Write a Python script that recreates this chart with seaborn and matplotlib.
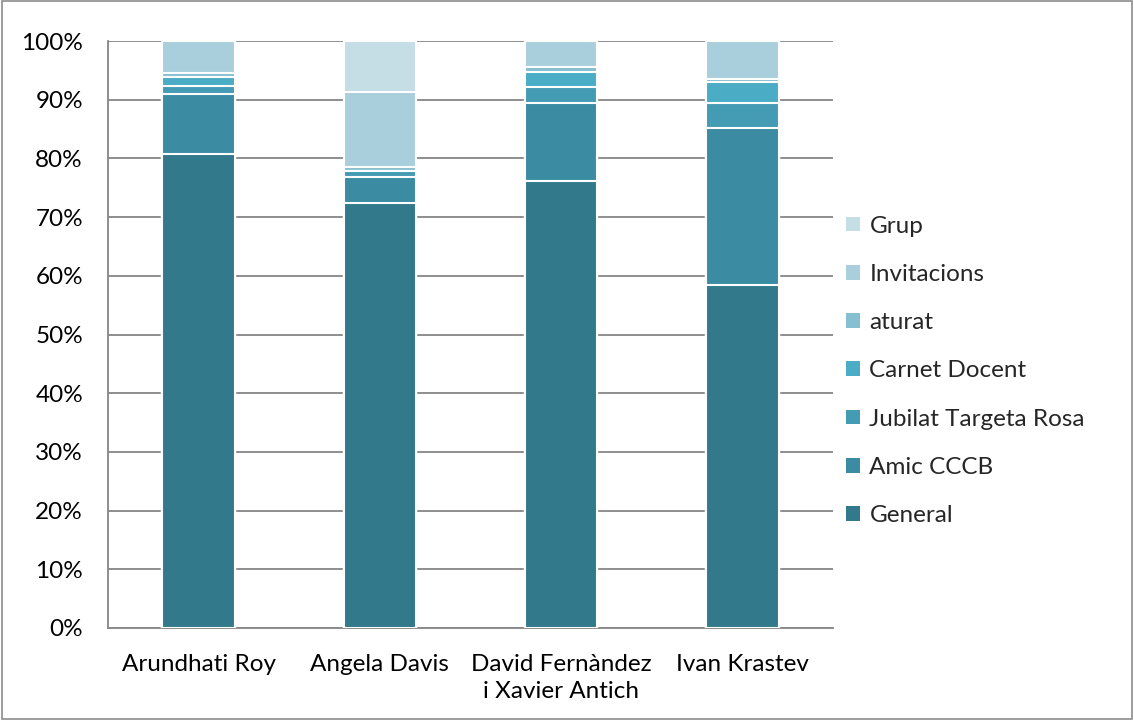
import pandas as pd
import matplotlib.pyplot as plt
import seaborn as sns
from matplotlib.patches import Patch, Rectangle

speakers = ["Arundhati Roy", "Angela Davis", "David Fernàndez\ni Xavier Antich", "Ivan Krastev"]
series = ["General", "Amic CCCB", "Jubilat Targeta Rosa", "Carnet Docent", "aturat", "Invitacions", "Grup"]
general = [80.7, 72.4, 76.1, 58.4]
amic = [10.3, 4.4, 13.4, 26.7]
jubilat = [1.4, 1.0, 2.6, 4.3]
carnet = [1.5, 0.0, 2.7, 3.6]
aturat = [0.7, 0.7, 0.7, 0.6]
invitacions = [5.4, 12.8, 4.5, 6.4]
grup = [0.0, 8.7, 0.0, 0.0]
colors = ["#32798b", "#3b8ba3", "#449bb4", "#4bacc6", "#86bfd1", "#a9cedc", "#c5dde5"]

values = [general, amic, jubilat, carnet, aturat, invitacions, grup]

sns.set_style("white")
plt.rcParams['font.family'] = ['Lato', 'DejaVu Sans']
fs = 17.5

fig, ax = plt.subplots(figsize=(11.34, 7.2), dpi=100)
fig.subplots_adjust(left=108 / 1134, right=833 / 1134, top=1 - 41 / 720, bottom=1 - 628 / 720)

# stacked bars: draw cumulative totals from the top down
df = pd.DataFrame(dict(zip(series, values)), index=speakers)
cum = df.cumsum(axis=1)
for name, col in reversed(list(zip(series, colors))):
    sns.barplot(x=list(range(len(speakers))), y=cum[name].values, color=col, saturation=1,
                width=0.4, edgecolor="white", linewidth=1.5, ax=ax, zorder=3)

ax.set_ylim(0, 100)
ax.set_xlim(-0.5, len(speakers) - 0.5)
ax.set_yticks(range(0, 101, 10))
ax.set_yticklabels([f"{v}%" for v in range(0, 101, 10)], fontsize=fs, color="black")
ax.yaxis.grid(True, color="#868686", linewidth=1.3, zorder=0)
ax.set_axisbelow(True)

ax.set_xticks([i + 0.5 for i in range(-1, len(speakers))], minor=False)
ax.set_xticklabels([])
ax.set_xticks(range(len(speakers)), minor=True)
ax.set_xticklabels(speakers, minor=True, fontsize=fs, color="black", linespacing=1.35)
ax.tick_params(axis="x", which="major", length=7, color="#868686", width=1.3, direction="out")
ax.tick_params(axis="x", which="minor", length=0, pad=19)
ax.tick_params(axis="y", length=6, color="#868686", width=1.3, pad=12)
ax.set_xlabel("")
ax.set_ylabel("")

for s in ["top", "right"]:
    ax.spines[s].set_visible(False)
for s in ["left", "bottom"]:
    ax.spines[s].set_color("#868686")
    ax.spines[s].set_linewidth(1.3)

handles = [Patch(facecolor=c, edgecolor="none", label=n) for n, c in zip(series, colors)]
ax.legend(handles=handles[::-1], loc="center left", bbox_to_anchor=(1.005, 0.438), frameon=False,
          fontsize=fs, handlelength=0.55, handleheight=0.55, labelspacing=1.12, handletextpad=0.4,
          borderaxespad=0)

fig.patches.append(Rectangle((0.002, 0.002), 0.996, 0.996, transform=fig.transFigure,
                             fill=False, edgecolor="#8c8c8c", linewidth=1.2))

fig.savefig("out.png", dpi=100)
